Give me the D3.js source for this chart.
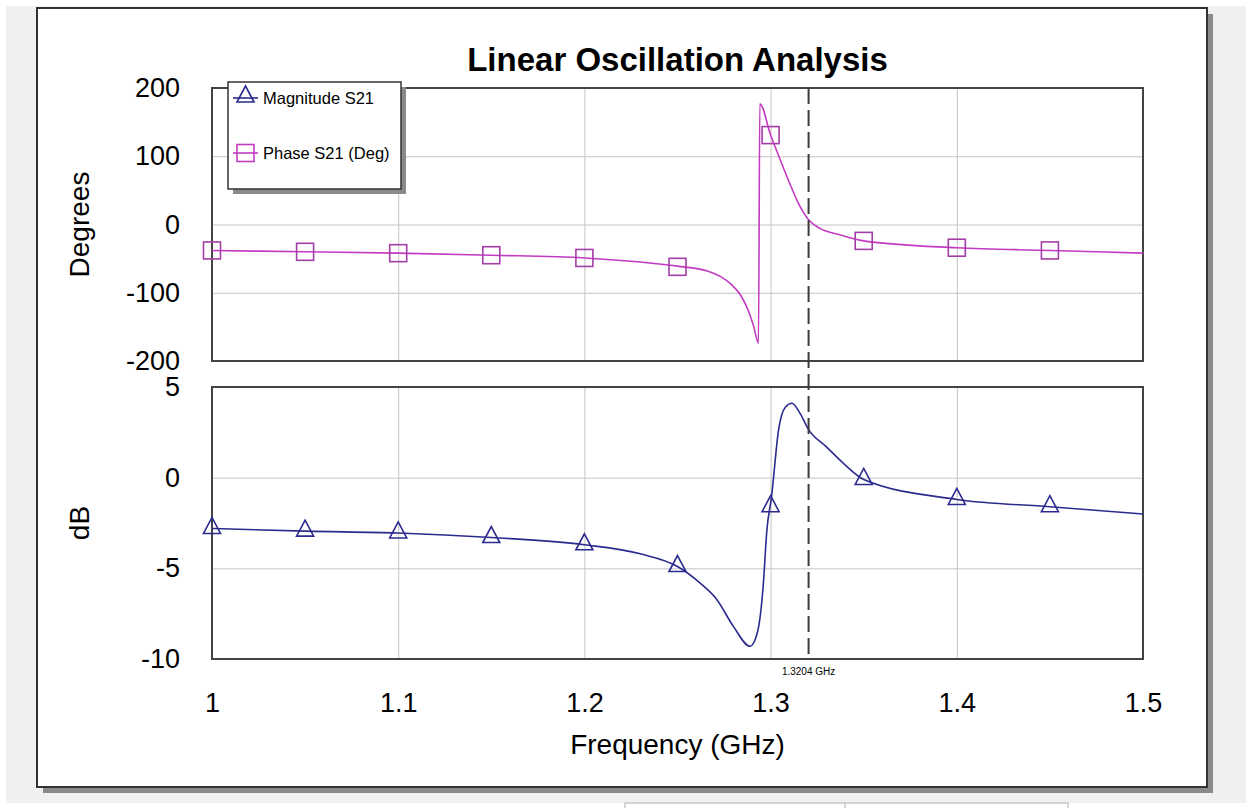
<!DOCTYPE html>
<html>
<head>
<meta charset="utf-8">
<script src="https://cdn.jsdelivr.net/npm/d3@7"></script>
<style>
  body { margin: 0; background: #fff; }
  svg text { font-family: "Liberation Sans", Arial, sans-serif; }
</style>
</head>
<body>
<div class="chart"></div>
<script>
// ---------------- DATA
var xTicks = [1, 1.1, 1.2, 1.3, 1.4, 1.5];
var degTicks = [200, 100, 0, -100, -200];
var dbTicks = [5, 0, -5, -10];

var phaseFreq = [1.00, 1.05, 1.10, 1.15, 1.20, 1.23, 1.25, 1.266, 1.273, 1.279, 1.284, 1.288, 1.291, 1.2935, 1.2942, 1.30, 1.305, 1.31, 1.3155, 1.3204, 1.326, 1.337, 1.35, 1.40, 1.45, 1.50];
var phaseDeg = [-38, -40, -42, -45, -49, -55, -61, -68, -76, -88, -104, -126, -150, -174, 177, 131, 96, 62, 28, 7, -5, -15, -24, -34, -38, -42];

var magFreq = [1.00, 1.05, 1.10, 1.15, 1.20, 1.23, 1.25, 1.262, 1.271, 1.28, 1.289, 1.293, 1.296, 1.298, 1.3005, 1.3043, 1.308, 1.3115, 1.3155, 1.3204, 1.330, 1.339, 1.35, 1.40, 1.45, 1.50];
var magDb = [-2.8, -2.95, -3.05, -3.3, -3.7, -4.2, -4.9, -5.8, -6.7, -8.2, -9.3, -8.5, -6.0, -2.9, -1.05, 2.65, 3.9, 4.1, 3.6, 2.65, 1.7, 0.8, -0.1, -1.2, -1.6, -2.0];

var markerFreq = [1.00, 1.05, 1.10, 1.15, 1.20, 1.25, 1.30, 1.35, 1.40, 1.45];
var phaseMarks = [-38, -40, -42, -45, -49, -62, 131, -24, -34, -38];
var magMarks = [-2.8, -2.95, -3.05, -3.3, -3.7, -4.9, -1.6, -0.1, -1.2, -1.6];

var markerX = 1.3204;
var markerLabel = "1.3204 GHz";

var phaseColor = "#c23bc2";
var magColor = "#2b2b8f";

// ---------------- LAYOUT
var W = 1248, H = 808;
var left = 212, right = 1143;
var top1 = 88, bot1 = 361;
var top2 = 387, bot2 = 659;
var font = "'Liberation Sans', Arial, sans-serif";

var svg = d3.select(".chart").append("svg")
  .attr("width", W).attr("height", H);

// window background + panel with shadow
svg.append("rect").attr("x", 6).attr("y", 6).attr("width", 1240).attr("height", 797).attr("fill", "#f0f0f0");
svg.append("rect").attr("x", 625).attr("y", 803).attr("width", 443).attr("height", 10)
  .attr("fill", "#fff").attr("stroke", "#b0b0b0");
svg.append("line").attr("x1", 845).attr("x2", 845).attr("y1", 803).attr("y2", 808).attr("stroke", "#b0b0b0");
svg.append("rect").attr("x", 43).attr("y", 14).attr("width", 1170).attr("height", 779).attr("fill", "#8a8a8a");
svg.append("rect").attr("x", 37).attr("y", 8).attr("width", 1170).attr("height", 779)
  .attr("fill", "#fff").attr("stroke", "#333").attr("stroke-width", 2);

// ---------------- SCALES
var x = d3.scaleLinear().domain([1, 1.5]).range([left, right]);
var yDeg = d3.scaleLinear().domain([-200, 200]).range([bot1, top1]);
var yDb = d3.scaleLinear().domain([-10, 5]).range([bot2, top2]);

function plain(d) { return String(d); }

function panel(y, ticks, top, bot) {
  var g = svg.append("g");
  // grid
  g.append("g").attr("transform", "translate(0," + bot + ")")
    .call(d3.axisBottom(x).tickValues(xTicks).tickSize(-(bot - top)).tickFormat(""))
    .call(function(s) {
      s.select(".domain").remove();
      s.selectAll("line").attr("stroke", "#c4c4c4");
    });
  g.append("g").attr("transform", "translate(" + left + ",0)")
    .call(d3.axisLeft(y).tickValues(ticks).tickSize(-(right - left)).tickPadding(32).tickFormat(plain))
    .call(function(s) {
      s.select(".domain").remove();
      s.selectAll("line").attr("stroke", "#c4c4c4");
      s.selectAll("text").attr("fill", "#000").style("font-size", "27px").style("font-family", font);
    });
  g.append("rect").attr("x", left).attr("y", top).attr("width", right - left).attr("height", bot - top)
    .attr("fill", "none").attr("stroke", "#444").attr("stroke-width", 2);
  return g;
}

panel(yDeg, degTicks, top1, bot1);
panel(yDb, dbTicks, top2, bot2);

// x tick labels
svg.append("g").attr("transform", "translate(0," + bot2 + ")")
  .call(d3.axisBottom(x).tickValues(xTicks).tickSize(0).tickPadding(34).tickFormat(plain))
  .call(function(s) {
    s.select(".domain").remove();
    s.selectAll("text").attr("fill", "#000").style("font-size", "27px").style("font-family", font);
  });

// ---------------- CURVES
var phaseData = phaseFreq.map(function(f, i) { return {f: f, v: phaseDeg[i]}; });
var magData = magFreq.map(function(f, i) { return {f: f, v: magDb[i]}; });

var phaseLine = d3.line().x(function(d) { return x(d.f); }).y(function(d) { return yDeg(d.v); })
  .curve(d3.curveMonotoneX);
var magLine = d3.line().x(function(d) { return x(d.f); }).y(function(d) { return yDb(d.v); })
  .curve(d3.curveMonotoneX);

svg.append("path").attr("d", phaseLine(phaseData)).attr("fill", "none")
  .attr("stroke", phaseColor).attr("stroke-width", 1.6);
svg.append("path").attr("d", magLine(magData)).attr("fill", "none")
  .attr("stroke", magColor).attr("stroke-width", 1.6);

// markers
function square(g, cx, cy, col) {
  g.append("rect").attr("x", cx - 8.5).attr("y", cy - 8.5).attr("width", 17).attr("height", 17)
    .attr("fill", "none").attr("stroke", col).attr("stroke-width", 1.6);
}
function triangle(g, cx, cy, col) {
  g.append("path").attr("d", "M" + cx + "," + (cy - 11) + "L" + (cx + 8.5) + "," + (cy + 5) + "L" + (cx - 8.5) + "," + (cy + 5) + "Z")
    .attr("fill", "none").attr("stroke", col).attr("stroke-width", 1.6);
}
var marks = svg.append("g");
markerFreq.forEach(function(f, i) {
  square(marks, x(f), yDeg(phaseMarks[i]), "#a33ea8");
  triangle(marks, x(f), yDb(magMarks[i]), magColor);
});

// dashed marker line
svg.append("line").attr("x1", x(markerX)).attr("x2", x(markerX)).attr("y1", top1).attr("y2", bot2)
  .attr("stroke", "#3a3a3a").attr("stroke-width", 2).attr("stroke-dasharray", "16,6");
svg.append("text").attr("x", x(markerX)).attr("y", bot2 + 16).attr("text-anchor", "middle")
  .style("font-size", "10px").text(markerLabel);

// ---------------- TEXTS
svg.append("text").attr("x", (left + right) / 2).attr("y", 71).attr("text-anchor", "middle")
  .style("font-size", "33px").style("font-weight", "bold").text("Linear Oscillation Analysis");
svg.append("text").attr("x", (left + right) / 2).attr("y", 754).attr("text-anchor", "middle")
  .style("font-size", "28px").text("Frequency (GHz)");
svg.append("text").attr("transform", "translate(89," + (top1 + bot1) / 2 + ") rotate(-90)")
  .attr("text-anchor", "middle").style("font-size", "28px").text("Degrees");
svg.append("text").attr("transform", "translate(89," + (top2 + bot2) / 2 + ") rotate(-90)")
  .attr("text-anchor", "middle").style("font-size", "28px").text("dB");

// ---------------- LEGEND
var lg = svg.append("g");
lg.append("rect").attr("x", 233).attr("y", 87).attr("width", 173).attr("height", 107).attr("fill", "#8a8a8a");
lg.append("rect").attr("x", 228).attr("y", 82).attr("width", 173).attr("height", 107)
  .attr("fill", "#fff").attr("stroke", "#333").attr("stroke-width", 1.5);
lg.append("line").attr("x1", 233).attr("x2", 258).attr("y1", 98).attr("y2", 98).attr("stroke", magColor).attr("stroke-width", 1.6);
triangle(lg, 245.5, 97, magColor);
lg.append("text").attr("x", 263).attr("y", 104).style("font-size", "16.5px").text("Magnitude S21");
lg.append("line").attr("x1", 233).attr("x2", 258).attr("y1", 153).attr("y2", 153).attr("stroke", phaseColor).attr("stroke-width", 1.6);
square(lg, 245.5, 153, phaseColor);
lg.append("text").attr("x", 263).attr("y", 159).style("font-size", "16.5px").text("Phase S21 (Deg)");
</script>
</body>
</html>
